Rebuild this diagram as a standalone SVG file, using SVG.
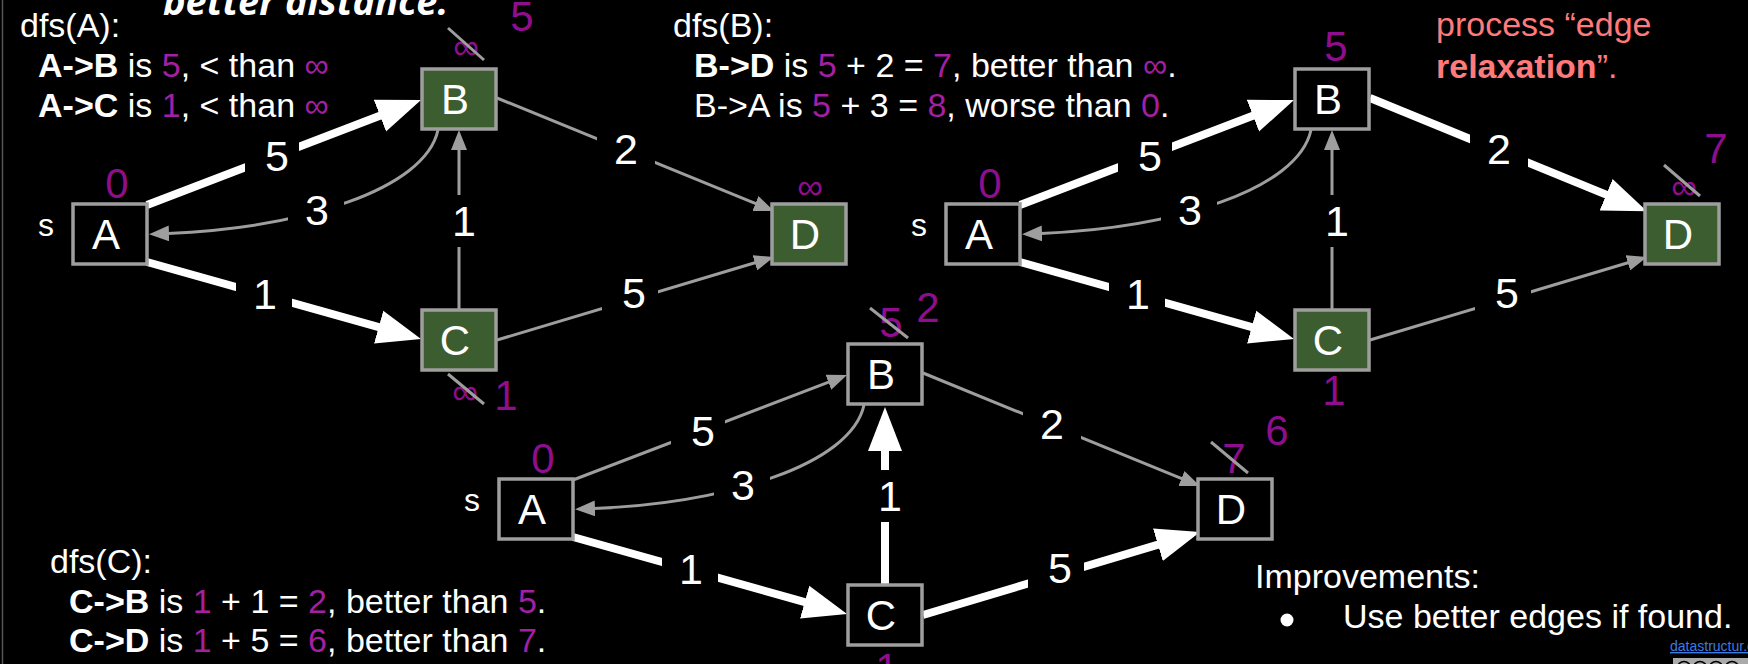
<svg xmlns="http://www.w3.org/2000/svg" width="1748" height="664" viewBox="0 0 1748 664">
<defs>
<style>
.t{font-family:"Liberation Sans",Arial,sans-serif;font-size:34px;fill:#fff}
.b{font-weight:bold}
.p{fill:#a31fa3}
.nb{fill:#000;stroke:#9e9e9e;stroke-width:3.5}
.ng{fill:#3c5d2f;stroke:#9e9e9e;stroke-width:3.5}
.nl{font-family:"Liberation Sans",Arial,sans-serif;font-size:42px;fill:#fff;text-anchor:middle}
.wl{font-family:"Liberation Sans",Arial,sans-serif;font-size:43px;fill:#fff;text-anchor:middle}
.dl{font-family:"Liberation Sans",Arial,sans-serif;font-size:42px;fill:#8e0e8e;text-anchor:middle}
.inf{font-size:36px}
.s{font-family:"Liberation Sans",Arial,sans-serif;font-size:32px;fill:#fff;text-anchor:middle}
.eb{fill:none;stroke:#fff;stroke-width:8;marker-end:url(#aw)}
.eg{fill:none;stroke:#9e9e9e;stroke-width:3;marker-end:url(#ag)}
.gap{fill:#000}
.st{stroke:#9e9e9e;stroke-width:3}
.pink{font-family:"Liberation Sans",Arial,sans-serif;font-size:34px;fill:#ff7a7a}
</style>
<marker id="aw" markerUnits="userSpaceOnUse" markerWidth="46" markerHeight="36" viewBox="0 0 46 36" refX="2" refY="18" orient="auto"><path d="M0,1 L44,18 L0,35 z" fill="#fff"/></marker>
<marker id="ag" markerUnits="userSpaceOnUse" markerWidth="21" markerHeight="16" viewBox="0 0 21 16" refX="1" refY="8" orient="auto"><path d="M0,0 L20,8 L0,16 z" fill="#9e9e9e"/></marker>
</defs>
<rect x="0" y="0" width="1748" height="664" fill="#000"/>
<line x1="2.5" y1="0" x2="2.5" y2="664" stroke="#555" stroke-width="1.5"/>

<text x="163" y="15" font-family="'Open Sans',sans-serif" font-weight="bold" font-style="italic" font-size="38" fill="#fff">better distance.</text>

<g id="text-dfsA">
<text class="t" x="20" y="37">dfs(A):</text>
<text class="t" x="38" y="77"><tspan class="b">A-&gt;B</tspan> is <tspan class="p">5</tspan>, &lt; than <tspan class="p">∞</tspan></text>
<text class="t" x="38" y="117"><tspan class="b">A-&gt;C</tspan> is <tspan class="p">1</tspan>, &lt; than <tspan class="p">∞</tspan></text>
</g>
<g id="text-dfsB">
<text class="t" x="673" y="37">dfs(B):</text>
<text class="t" x="694" y="77"><tspan class="b">B-&gt;D</tspan> is <tspan class="p">5</tspan> + 2 = <tspan class="p">7</tspan>, better than <tspan class="p">∞</tspan>.</text>
<text class="t" x="694" y="117">B-&gt;A is <tspan class="p">5</tspan> + 3 = <tspan class="p">8</tspan>, worse than <tspan class="p">0</tspan>.</text>
</g>
<g id="text-dfsC">
<text class="t" x="50" y="573">dfs(C):</text>
<text class="t" x="69" y="613"><tspan class="b">C-&gt;B</tspan> is <tspan class="p">1</tspan> + 1 = <tspan class="p">2</tspan>, better than <tspan class="p">5</tspan>.</text>
<text class="t" x="69" y="652"><tspan class="b">C-&gt;D</tspan> is <tspan class="p">1</tspan> + 5 = <tspan class="p">6</tspan>, better than <tspan class="p">7</tspan>.</text>
</g>
<g id="text-relax">
<text class="pink" x="1436" y="36">process “edge</text>
<text class="pink" x="1436" y="78"><tspan class="b">relaxation</tspan>”.</text>
</g>
<g id="text-improve">
<text class="t" x="1255" y="588">Improvements:</text>
<circle cx="1287" cy="620" r="6.5" fill="#fff"/>
<text class="t" x="1343" y="628">Use better edges if found.</text>
</g>
<text x="1670" y="651" font-family="'Liberation Sans',Arial,sans-serif" font-size="14" fill="#3d7be0" text-decoration="underline">datastructur.es</text>
<g id="cc-badge">
<rect x="1673" y="658" width="75" height="6" fill="#aaa"/>
<circle cx="1684" cy="668" r="6.5" fill="none" stroke="#000" stroke-width="1.5"/>
<circle cx="1700" cy="668" r="6.5" fill="none" stroke="#000" stroke-width="1.5"/>
<circle cx="1716" cy="668" r="6.5" fill="none" stroke="#000" stroke-width="1.5"/>
<circle cx="1732" cy="668" r="6.5" fill="none" stroke="#000" stroke-width="1.5"/>
</g>

<!-- Graph 1 -->
<g id="graph1">
<g id="g1-connectors">
<path class="eb" d="M147,205 L381.8,115"/>
<path class="eb" d="M147,262 L380.6,327.6"/>
<path class="eg" d="M438,130 C425,190 300,228 168,233.5"/>
<path class="eg" d="M459,310 L459,149"/>
<path class="eg" d="M497,98 L756.4,203.9"/>
<path class="eg" d="M497,340 L755.8,262.5"/>
</g>
<g id="g1-weights">
<rect class="gap" x="245" y="131" width="54" height="50"/><text class="wl" x="277" y="171">5</text>
<rect class="gap" x="236" y="269" width="56" height="50"/><text class="wl" x="265" y="309">1</text>
<rect class="gap" x="288" y="186" width="56" height="48"/><text class="wl" x="317" y="225">3</text>
<rect class="gap" x="447" y="195" width="30" height="52"/><text class="wl" x="464" y="236">1</text>
<rect class="gap" x="597" y="124" width="58" height="50"/><text class="wl" x="626" y="164">2</text>
<rect class="gap" x="602" y="268" width="56" height="50"/><text class="wl" x="634" y="308">5</text>
</g>
<g id="g1-A"><rect class="nb" x="73" y="204" width="74" height="60"/><text class="nl" x="106" y="249">A</text><text class="s" x="46" y="236">s</text><text class="dl" x="117" y="198">0</text></g>
<g id="g1-B"><rect class="ng" x="422" y="69" width="74" height="60"/><text class="nl" x="455" y="114">B</text><text class="dl inf" x="466" y="59">∞</text><line class="st" x1="448" y1="28" x2="484" y2="60"/><text class="dl" x="522" y="31">5</text></g>
<g id="g1-C"><rect class="ng" x="422" y="310" width="74" height="60"/><text class="nl" x="455" y="355">C</text><text class="dl inf" x="465" y="404">∞</text><line class="st" x1="448" y1="374" x2="484" y2="404"/><text class="dl" x="506" y="410">1</text></g>
<g id="g1-D"><rect class="ng" x="772" y="204" width="74" height="60"/><text class="nl" x="805" y="249">D</text><text class="dl inf" x="810" y="199">∞</text></g>
</g>

<!-- Graph 2 -->
<g id="graph2" transform="translate(873,0)">
<g id="g2-connectors">
<path class="eb" d="M147,205 L381.8,115"/>
<path class="eb" d="M147,262 L380.6,327.6"/>
<path class="eg" d="M438,130 C425,190 300,228 168,233.5"/>
<path class="eg" d="M459,310 L459,149"/>
<path class="eb" d="M497,98 L735,195.4"/>
<path class="eg" d="M497,340 L755.8,262.5"/>
</g>
<g id="g2-weights">
<rect class="gap" x="245" y="131" width="54" height="50"/><text class="wl" x="277" y="171">5</text>
<rect class="gap" x="236" y="269" width="56" height="50"/><text class="wl" x="265" y="309">1</text>
<rect class="gap" x="288" y="186" width="56" height="48"/><text class="wl" x="317" y="225">3</text>
<rect class="gap" x="447" y="195" width="30" height="52"/><text class="wl" x="464" y="236">1</text>
<rect class="gap" x="597" y="124" width="58" height="50"/><text class="wl" x="626" y="164">2</text>
<rect class="gap" x="602" y="268" width="56" height="50"/><text class="wl" x="634" y="308">5</text>
</g>
<g id="g2-A"><rect class="nb" x="73" y="204" width="74" height="60"/><text class="nl" x="106" y="249">A</text><text class="s" x="46" y="236">s</text><text class="dl" x="117" y="198">0</text></g>
<g id="g2-B"><rect class="nb" x="422" y="69" width="74" height="60"/><text class="nl" x="455" y="114">B</text><text class="dl" x="463" y="61">5</text></g>
<g id="g2-C"><rect class="ng" x="422" y="310" width="74" height="60"/><text class="nl" x="455" y="355">C</text><text class="dl" x="461" y="405">1</text></g>
<g id="g2-D"><rect class="ng" x="772" y="204" width="74" height="60"/><text class="nl" x="805" y="249">D</text><text class="dl inf" x="811" y="199">∞</text><line class="st" x1="791" y1="165" x2="827" y2="196"/><text class="dl" x="843" y="163">7</text></g>
</g>

<!-- Graph 3 -->
<g id="graph3" transform="translate(426,275)">
<g id="g3-connectors">
<path class="eg" d="M147,205 L403.3,106.8"/>
<path class="eb" d="M147,262 L380.6,327.6"/>
<path class="eg" d="M438,130 C425,190 300,228 168,233.5"/>
<path class="eb" d="M459,310 L459,174"/>
<path class="eg" d="M497,98 L756.4,203.9"/>
<path class="eb" d="M497,340 L733.8,269.1"/>
</g>
<g id="g3-weights">
<rect class="gap" x="245" y="131" width="54" height="50"/><text class="wl" x="277" y="171">5</text>
<rect class="gap" x="236" y="269" width="56" height="50"/><text class="wl" x="265" y="309">1</text>
<rect class="gap" x="288" y="186" width="56" height="48"/><text class="wl" x="317" y="225">3</text>
<rect class="gap" x="445" y="195" width="34" height="52"/><text class="wl" x="464" y="236">1</text>
<rect class="gap" x="597" y="124" width="58" height="50"/><text class="wl" x="626" y="164">2</text>
<rect class="gap" x="602" y="268" width="56" height="50"/><text class="wl" x="634" y="308">5</text>
</g>
<g id="g3-A"><rect class="nb" x="73" y="204" width="74" height="60"/><text class="nl" x="106" y="249">A</text><text class="s" x="46" y="236">s</text><text class="dl" x="117" y="198">0</text></g>
<g id="g3-B"><rect class="nb" x="422" y="69" width="74" height="60"/><text class="nl" x="455" y="114">B</text><text class="dl" x="465" y="62">5</text><line class="st" x1="444" y1="33" x2="482" y2="63"/><text class="dl" x="502" y="47">2</text></g>
<g id="g3-C"><rect class="nb" x="422" y="310" width="74" height="60"/><text class="nl" x="455" y="355">C</text><text class="dl" x="461" y="408">1</text></g>
<g id="g3-D"><rect class="nb" x="772" y="204" width="74" height="60"/><text class="nl" x="805" y="249">D</text><text class="dl" x="808" y="198">7</text><line class="st" x1="785" y1="167" x2="822" y2="198"/><text class="dl" x="851" y="170">6</text></g>
</g>
</svg>
